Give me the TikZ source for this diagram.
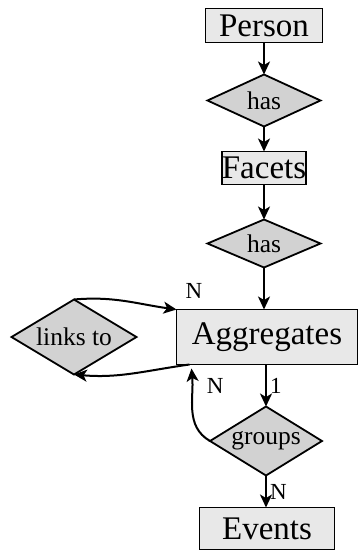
\documentclass[tikz,border=0pt]{standalone}
\usepackage{fontspec}
\setmainfont{Liberation Serif}
\usetikzlibrary{arrows.meta}
\usetikzlibrary{positioning}
\usetikzlibrary{shapes.geometric}

\begin{document}
\begin{tikzpicture}[x=1pt,y=1pt,-{Stealth[length=13pt,width=12pt,inset=3.5pt]},line width=2pt,
		node distance=35pt]
		\tikzstyle{entity}=[shape=rectangle,draw,fill=gray!18,line width=1.8pt,inner sep=0pt,outer sep=0pt,
			minimum height=34pt,font=\fontsize{33}{36}\selectfont]
		\tikzstyle{relation}=[shape=diamond,aspect=1.6,draw,fill=gray!35,line width=1.8pt,inner sep=0pt,outer sep=0pt,
			font=\fontsize{25.5}{28}\selectfont]
		\tikzstyle{card}=[font=\fontsize{23}{25}\selectfont,inner sep=0pt]
		\useasboundingbox (0,0) rectangle (361,-552);
		
		\node[entity,minimum width=117pt]                  (Person)     at (264,-25.5) {Person};
		\node[relation,minimum width=113pt,minimum height=52pt] (HasFacets) [below=32pt of Person]  {has};
		\node[entity,minimum width=77pt,minimum height=33pt]    (Facets)     [below=25pt of HasFacets] {Facets};
		\node[relation,minimum width=113pt,minimum height=48pt] (HasAggr)   [below=35pt of Facets]  {has};
		\node[entity,minimum width=181pt,minimum height=55pt]   (Aggregates) [below=42pt of HasAggr,xshift=3pt] {Aggregates};
		\node[relation,minimum width=125pt,minimum height=75pt] (Links)     [left=40pt of Aggregates] {links to};
		\node[relation,minimum width=112pt,minimum height=69pt] (Groups)    [below=42pt of Aggregates,xshift=-1pt] {groups};
		\node[entity,minimum width=135pt,minimum height=42pt]   (Events)    [below=32pt of Groups,xshift=1pt] {Events};
		
		\draw (Person) -- (HasFacets);
		\draw (HasFacets) -- (Facets);
		\draw (Facets) -- (HasAggr);
		\draw (HasAggr.south) -- (HasAggr.south |- Aggregates.north);
		\draw (Aggregates.south -| Groups.north) -- node[card,right=3pt] {1} (Groups.north);
		\draw (Groups.south) -- node[card,right=3pt] {N} (Groups.south |- Events.north);
		\draw (Links.north) to[out=5,in=172] node[card,pos=1,above right=10pt and 8pt] {N} (Aggregates.north west);
		\draw ([xshift=13pt]Aggregates.south west) to[out=-172,in=-5] (Links.south);
		\draw (Groups.west) to[out=150,in=-85] node[card,pos=0.75,right=14pt,yshift=4pt] {N} ([xshift=15pt,yshift=-4pt]Aggregates.south west);
\end{tikzpicture}
\end{document}
